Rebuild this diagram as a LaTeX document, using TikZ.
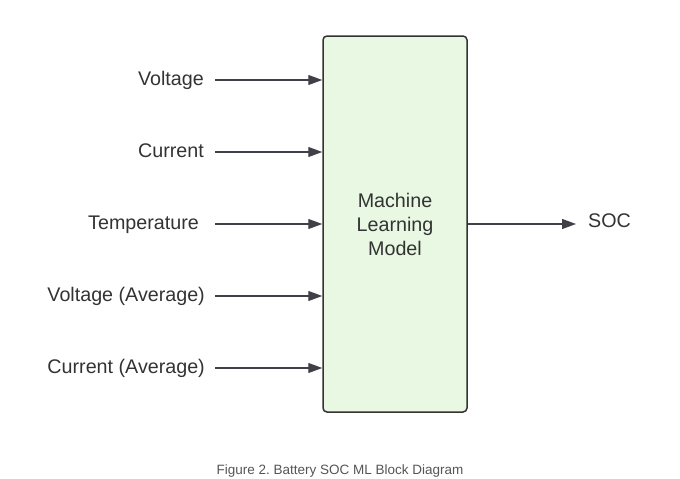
\documentclass[tikz,border=0pt]{standalone}
\usepackage{fontspec}
\setmainfont{Liberation Sans}
\usepackage{tikz}
\usetikzlibrary{arrows.meta,positioning}
\frenchspacing

\definecolor{boxfill}{HTML}{E8F8E3}
\definecolor{boxline}{HTML}{333333}
\definecolor{arrowgray}{HTML}{404048}
\definecolor{textgray}{HTML}{333333}
\definecolor{capgray}{HTML}{555555}

\tikzset{
  inlabel/.style={anchor=base east, inner sep=0pt, text=textgray, font=\fontsize{19.7}{24}\selectfont},
  flow/.style={draw=arrowgray, line width=1.2pt, -{Triangle[length=14pt,width=10pt]}},
  mlbox/.style={draw=boxline, fill=boxfill, line width=1.5pt, rounded corners=4pt,
    minimum width=144pt, minimum height=376pt, align=center, text=textgray,
    font=\fontsize{19.7}{24}\selectfont}
}

\begin{document}
\begin{tikzpicture}[x=1pt,y=-1pt]
    \useasboundingbox (0,0) rectangle (680,479);

    % Model
    \node[mlbox] (model) at (395,224) {Machine\\Learning\\Model};

    % Inputs
    \node[inlabel] (volt) at (204,85) {Voltage};
    \node[inlabel] (curr) at (204,157) {Current};
    \node[inlabel] (temp) at (199,229) {Temperature};
    \node[inlabel] (voltavg) at (205,301) {Voltage (Average)};
    \node[inlabel] (curravg) at (205,373) {Current (Average)};

    \coordinate (voltin) at (215,80);
    \coordinate (currin) at (215,152);
    \coordinate (tempin) at (215,224);
    \coordinate (voltavgin) at (215,296);
    \coordinate (curravgin) at (215,368);

    \draw[flow] (voltin) -- (voltin -| model.west);
    \draw[flow] (currin) -- (currin -| model.west);
    \draw[flow] (tempin) -- (tempin -| model.west);
    \draw[flow] (voltavgin) -- (voltavgin -| model.west);
    \draw[flow] (curravgin) -- (curravgin -| model.west);

    % Output
    \coordinate (socin) at (576,224);
    \node[inlabel, anchor=base west] (soc) at (588,227) {SOC};
    \draw[flow] (model.east |- socin) -- (socin);

    % Caption
    \node[anchor=base, inner sep=0pt, text=capgray, font=\fontsize{13.5}{16}\selectfont]
      (caption) at (340,474) {Figure 2. Battery SOC ML Block Diagram};
\end{tikzpicture}
\end{document}
